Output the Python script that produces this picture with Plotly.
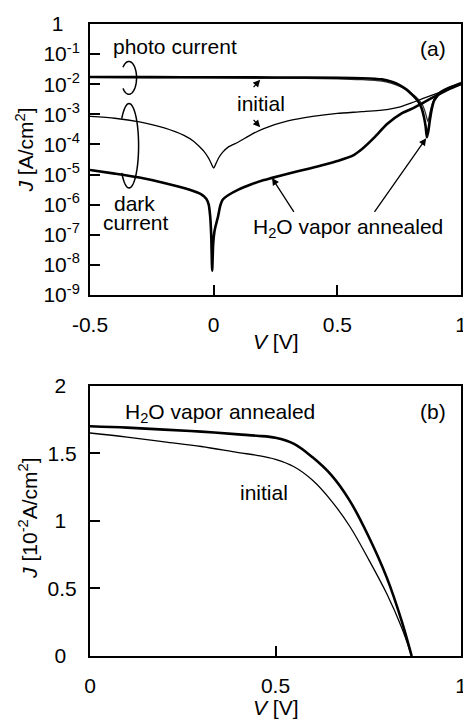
import numpy as np
import plotly.graph_objects as go

FONT = "Liberation Sans, Arial, sans-serif"
FS = 21
THICK = 2.6
THIN = 1.3

# ---------------- Panel (a): |J| vs V, log scale ----------------
# photo current, H2O vapor annealed (thick)
photo_ann_V = [-0.5, -0.25, 0.0, 0.25, 0.5, 0.6, 0.68, 0.72, 0.75, 0.78, 0.80, 0.825,
               0.84, 0.85, 0.857, 0.862, 0.868, 0.874, 0.882, 0.891, 0.905, 0.918, 0.95, 0.975, 1.0]
photo_ann_log10J = [-1.76, -1.765, -1.77, -1.775, -1.785, -1.80, -1.84, -1.92, -2.02, -2.18, -2.33, -2.55,
                    -2.78, -3.08, -3.40, -3.76, -3.55, -3.20, -2.82, -2.55, -2.38, -2.26, -2.12, -2.05, -1.98]

# photo current, initial (thin)
photo_ini_V = [-0.5, -0.25, 0.0, 0.25, 0.5, 0.6, 0.68, 0.72, 0.76, 0.80, 0.83, 0.845,
               0.855, 0.861, 0.866, 0.871, 0.877, 0.885, 0.9, 0.93, 0.96, 1.0]
photo_ini_log10J = [-1.775, -1.78, -1.785, -1.80, -1.82, -1.85, -1.90, -1.97, -2.10, -2.30, -2.52, -2.70,
                    -2.92, -3.10, -3.24, -3.08, -2.85, -2.62, -2.40, -2.20, -2.08, -1.94]

# dark current, initial (thin)
dark_ini_V = [-0.5, -0.4, -0.3, -0.2, -0.12, -0.08, -0.06, -0.04, -0.02, -0.01, 0.0, 0.01,
              0.02, 0.035, 0.06, 0.1, 0.15, 0.2, 0.3, 0.4, 0.5, 0.6, 0.7, 0.75, 0.8, 0.85,
              0.9, 0.95, 1.0]
dark_ini_log10J = [-3.07, -3.13, -3.25, -3.45, -3.70, -3.90, -4.05, -4.22, -4.46, -4.63, -4.78, -4.62,
                   -4.45, -4.27, -4.08, -3.92, -3.68, -3.48, -3.22, -3.07, -2.97, -2.91, -2.84, -2.76,
                   -2.62, -2.46, -2.31, -2.15, -1.97]

# dark current, H2O vapor annealed (thick)
dark_ann_V = [-0.5, -0.4, -0.3, -0.2, -0.1, -0.05, -0.03, -0.02, -0.014, -0.01, -0.006, -0.002,
              0.003, 0.008, 0.017, 0.027, 0.037, 0.06, 0.1, 0.15, 0.2, 0.236, 0.3, 0.388, 0.45,
              0.5, 0.56, 0.6, 0.653, 0.7, 0.76, 0.8, 0.85, 0.9, 0.95, 1.0]
dark_ann_log10J = [-4.85, -4.97, -5.10, -5.28, -5.50, -5.66, -5.80, -6.00, -6.40, -7.00, -8.19, -7.30,
                   -6.90, -6.70, -6.42, -6.02, -5.83, -5.68, -5.50, -5.33, -5.19, -5.11, -4.97, -4.80,
                   -4.67, -4.55, -4.38, -4.15, -3.74, -3.33, -2.97, -2.82, -2.60, -2.38, -2.17, -2.00]

log_tick_exp = [0, -1, -2, -3, -4, -5, -6, -7, -8, -9]
log_tick_text = ["1\u2002\u2008"] + ["10<sup>%d</sup>" % e for e in log_tick_exp[1:]]
xa_tickvals = [-0.5, 0, 0.5, 1]
xa_ticktext = ["-0.5", "0", "0.5", "1"]

# ---------------- Panel (b): J-V, linear scale ----------------
jv_V = [0.0, 0.1, 0.2, 0.3, 0.4, 0.45, 0.5, 0.55, 0.6, 0.65, 0.7, 0.75, 0.8, 0.84, 0.867]
jv_annealed = [1.70, 1.69, 1.675, 1.66, 1.64, 1.63, 1.615, 1.57, 1.47, 1.34, 1.15, 0.89, 0.58, 0.26, 0.0]
jv_initial = [1.65, 1.62, 1.585, 1.55, 1.505, 1.485, 1.455, 1.40, 1.30, 1.15, 0.96, 0.72, 0.46, 0.21, 0.0]

xb_tickvals = [0, 0.5, 1]
xb_ticktext = ["0", "0.5", "1"]
yb_tickvals = [0, 0.5, 1, 1.5, 2]
yb_ticktext = ["0\u2002", "0.5", "1\u2002", "1.5", "2\u2002"]

fig = go.Figure()

def to_J(logs):
    return np.power(10.0, np.array(logs))

line_a = dict(shape="spline", smoothing=0.6)
line_b = dict(shape="spline", smoothing=1.0)
fig.add_trace(go.Scatter(x=photo_ini_V, y=to_J(photo_ini_log10J), mode="lines",
                         line=dict(color="#333333", width=THIN, **line_a), xaxis="x", yaxis="y"))
fig.add_trace(go.Scatter(x=dark_ini_V, y=to_J(dark_ini_log10J), mode="lines",
                         line=dict(color="black", width=THIN, **line_a), xaxis="x", yaxis="y"))
fig.add_trace(go.Scatter(x=dark_ann_V, y=to_J(dark_ann_log10J), mode="lines",
                         line=dict(color="black", width=THICK, **line_a), xaxis="x", yaxis="y"))
fig.add_trace(go.Scatter(x=photo_ann_V, y=to_J(photo_ann_log10J), mode="lines",
                         line=dict(color="black", width=THICK, **line_a), xaxis="x", yaxis="y"))

fig.add_trace(go.Scatter(x=jv_V, y=jv_initial, mode="lines",
                         line=dict(color="black", width=THIN, **line_b), xaxis="x2", yaxis="y2"))
fig.add_trace(go.Scatter(x=jv_V, y=jv_annealed, mode="lines",
                         line=dict(color="black", width=THICK, **line_b), xaxis="x2", yaxis="y2"))

axis_common = dict(showline=True, linecolor="black", linewidth=2, mirror=True, ticks="inside",
                   ticklen=10, tickwidth=1.5, tickcolor="black", showgrid=False, zeroline=False,
                   tickfont=dict(family=FONT, size=FS, color="black"))

# the page body has an 8 px default margin, so the figure is made 8 px smaller
fig.update_layout(
    width=463, height=713,
    margin=dict(l=82, r=4, t=12, b=65),
    paper_bgcolor="white", plot_bgcolor="white",
    showlegend=False,
    font=dict(family=FONT, size=FS, color="black"),
    xaxis=dict(domain=[0, 1], anchor="y", range=[-0.5, 1], tickmode="array",
               tickvals=xa_tickvals, ticktext=xa_ticktext, ticklabelstandoff=10, **axis_common),
    yaxis=dict(domain=[0.5712, 1], anchor="x", type="log", range=[-9, 0], tickmode="array",
               tickvals=[10.0 ** e for e in log_tick_exp], ticktext=log_tick_text,
               ticklabelstandoff=4, **axis_common),
    xaxis2=dict(domain=[0, 1], anchor="y2", range=[0, 1], tickmode="array",
                tickvals=xb_tickvals, ticktext=xb_ticktext, ticklabelstandoff=10, **axis_common),
    yaxis2=dict(domain=[0, 0.4277], anchor="x2", range=[0, 2], tickmode="array",
                tickvals=yb_tickvals, ticktext=yb_ticktext, ticklabelstandoff=7, **axis_common),
)

ann = []
def txt(text, x, y, xref, yref, **kw):
    d = dict(text=text, x=x, y=y, xref=xref, yref=yref, showarrow=False,
             font=dict(family=FONT, size=FS, color="black"), xanchor="center", yanchor="middle")
    d.update(kw)
    ann.append(d)

# axis titles
txt("<i>J</i> [A/cm<sup>2</sup>]", -0.175, 0.800, "paper", "paper", textangle=-90)
txt("<i>J</i> [10<sup>-2</sup>A/cm<sup>2</sup>]", -0.167, 0.217, "paper", "paper", textangle=-90)
txt("<i>V</i> [V]", 0.501, 0.4969, "paper", "paper")
txt("<i>V</i> [V]", 0.501, -0.0818, "paper", "paper")

# panel (a) labels (y in log10 units)
txt("photo current", -0.156, -0.76, "x", "y")
txt("(a)", 0.886, -0.80, "x", "y")
txt("initial", 0.190, -2.64, "x", "y")
txt("dark", -0.319, -5.97, "x", "y")
txt("current", -0.315, -6.60, "x", "y")
txt("H<sub>2</sub>O vapor annealed", 0.543, -6.76, "x", "y")

# panel (b) labels
txt("H<sub>2</sub>O vapor annealed", 0.351, 1.80, "x2", "y2")
txt("(b)", 0.924, 1.81, "x2", "y2")
txt("initial", 0.470, 1.21, "x2", "y2")

# arrows (panel a): head (x, y), tail (ax, ay)
arrows = [
    (0.188, -1.85, 0.156, -2.145),
    (0.188, -3.43, 0.156, -3.135),
    (0.236, -5.115, 0.328, -6.29),
    (0.859, -3.795, 0.646, -6.29),
]
for hx, hy, tx, ty in arrows:
    ann.append(dict(text="", x=hx, y=hy, ax=tx, ay=ty, xref="x", yref="y", axref="x", ayref="y",
                    showarrow=True, arrowhead=2, arrowsize=1.1, arrowwidth=1.3, arrowcolor="black",
                    standoff=0, startstandoff=0))

fig.update_layout(annotations=ann)

# bracket ellipses (paper coordinates), open on the left side
def ellipse_path(cx, cy, rx, ry, a0=140, a1=-140, n=57):
    th = np.radians(np.linspace(a0, a1, n))
    xs = cx + rx * np.cos(th)
    ys = cy + ry * np.sin(th)
    return "M " + " L ".join("%.5f,%.5f" % (x, y) for x, y in zip(xs, ys))

for cx, cy, rx, ry in [(0.1048, 0.9148, 0.0207, 0.02594), (0.1053, 0.8074, 0.0257, 0.0668)]:
    fig.add_shape(type="path", path=ellipse_path(cx, cy, rx, ry), xref="paper", yref="paper",
                  line=dict(color="black", width=1.5))

fig.write_html("out.html")
